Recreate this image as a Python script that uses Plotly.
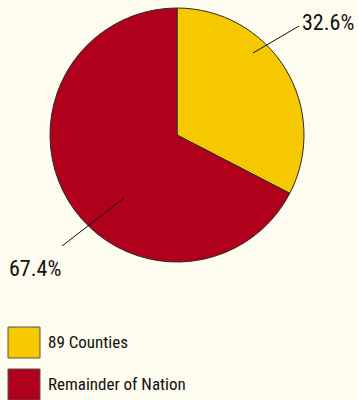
import plotly.graph_objects as go

labels = ["89 Counties", "Remainder of Nation"]
values = [32.6, 67.4]
colors = ["#F5C800", "#B0001C"]
pct_text = ["32.6%", "67.4%"]

W, H = 358, 400
BG = "#FEFCEF"
FONT = "Roboto Condensed, DejaVu Sans Condensed, sans-serif"

def px(x):
    return x / W

def py(y):
    return 1 - y / H

fig = go.Figure(go.Pie(
    labels=labels, values=values, sort=False, direction="clockwise", rotation=0,
    marker=dict(colors=colors, line=dict(color="#2a2a2a", width=1)),
    textinfo="none", hoverinfo="label+percent", showlegend=False,
    domain=dict(x=[px(50), px(304)], y=[py(262), py(8)]),
))

# leader lines and percentage labels
leaders = [((253, 53), (299, 26), (356, 22), "right"), ((124, 198), (62, 246), (35, 268), "center")]
shapes = []
annotations = []
for (p0, p1, tpos, anch), t in zip(leaders, pct_text):
    shapes.append(dict(type="line", xref="paper", yref="paper",
                       x0=px(p0[0]), y0=py(p0[1]), x1=px(p1[0]), y1=py(p1[1]),
                       line=dict(color="#111", width=1)))
    annotations.append(dict(xref="paper", yref="paper", x=px(tpos[0]), y=py(tpos[1]),
                            text=t, showarrow=False, xanchor=anch, yanchor="middle",
                            font=dict(family=FONT, size=22, color="#111")))

# legend drawn manually
legend_rows = [342, 384]
for lab, col, yc in zip(labels, colors, legend_rows):
    shapes.append(dict(type="rect", xref="paper", yref="paper",
                       x0=px(8), x1=px(40), y0=py(yc - 15), y1=py(yc + 16),
                       fillcolor=col, line=dict(color="#555", width=1)))
    annotations.append(dict(xref="paper", yref="paper", x=px(46), y=py(yc),
                            text=lab, showarrow=False, xanchor="left", yanchor="middle",
                            font=dict(family=FONT, size=17, color="#111")))

fig.update_layout(
    width=W, height=H, margin=dict(l=0, r=0, t=0, b=0),
    paper_bgcolor=BG, plot_bgcolor=BG,
    shapes=shapes, annotations=annotations,
)

fig.write_html("out.html")
